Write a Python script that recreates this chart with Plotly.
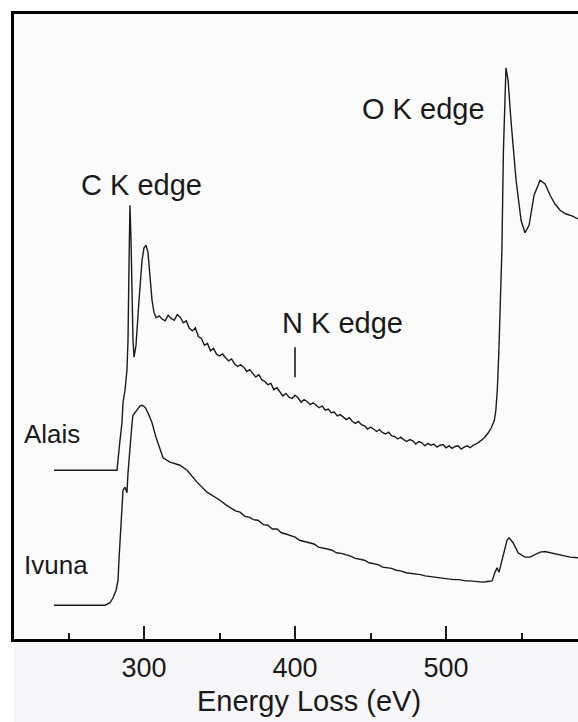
import plotly.graph_objects as go

# Energy loss (eV) and intensity (arbitrary units)
alais_ev = [240.4, 282.1, 284.1, 285.4, 286.1, 287.4, 288.7, 289.4, 290.1, 290.7,
            291.4, 292.1, 292.7, 293.4, 294.7, 296.7, 298.7, 300.0, 301.3, 302.6,
            304.0, 305.3, 306.6,
            308, 310, 312, 314, 316, 318, 320, 322, 324, 326, 328, 330, 332, 334,
            336, 338, 340, 342, 344, 346, 348, 350, 352, 354, 356, 358, 360, 362,
            364, 366, 368, 370, 372, 374, 376, 378, 380, 382, 384, 386, 388, 390,
            392, 394, 396, 398, 400, 402, 404, 406, 408, 410, 412, 414, 416, 418,
            420, 422, 424, 426, 428, 430, 432, 434, 436, 438, 440, 442, 444, 446,
            448, 450, 452, 454, 456, 458, 460, 462, 464, 466, 468, 470, 472, 474,
            476, 478, 480, 482, 484, 486, 488, 490, 492, 494, 496, 498, 500, 502,
            504, 506, 508, 510, 512, 514, 516, 518, 520, 522, 524, 526, 528, 530,
            532, 533, 534, 535, 536, 537, 538, 539, 539.7, 541.1, 543.0, 546.4,
            549.7, 552.3, 555.0, 558.3, 562.3, 565.6, 568.9, 572.2, 575.5, 579.5,
            583.4, 587.4]
alais_int = [27.0, 27.0, 31.8, 34.6, 37.8, 39.8, 43.0, 47.8, 60.6, 69.4,
             63.8, 54.2, 47.8, 45.1, 47.0, 54.2, 60.6, 62.6, 63.0, 61.9,
             58.2, 54.2, 52.3,
             51.4, 51.7, 51.2, 50.9, 51.8, 51.3, 51.0, 51.9, 51.5, 50.6, 50.9, 49.7, 49.3, 49.8,
             48.4, 48.1, 47.0, 47.3, 46.1, 46.5, 45.6, 45.3, 45.6, 45.0, 44.5, 44.8, 44.0, 43.6,
             43.9, 43.5, 42.8, 43.1, 42.4, 41.9, 42.3, 41.5, 41.2, 40.7, 40.9, 39.9, 40.2, 39.6,
             38.9, 39.3, 38.7, 38.5, 39.0, 38.6, 37.9, 38.3, 38.0, 37.5, 37.8, 37.4, 37.0, 37.3,
             36.6, 36.8, 36.2, 36.3, 35.7, 35.9, 35.5, 35.1, 35.4, 34.8, 34.5, 34.8, 34.3, 34.1,
             33.6, 33.9, 33.6, 33.2, 33.5, 33.0, 32.8, 33.1, 32.5, 32.4, 32.0, 32.3, 31.9, 31.6,
             31.9, 31.7, 31.2, 31.6, 31.4, 30.9, 31.3, 31.0, 31.2, 30.7, 31.0, 31.1, 30.6, 30.9,
             30.5, 30.8, 30.9, 30.4, 30.7, 30.9, 30.6, 31.0, 31.2, 31.5, 31.9, 32.4, 33.0, 33.8,
             35.0, 36.6, 40.0, 46.0, 55.0, 62.2, 78.0, 88.0, 91.4, 89.4, 83.0, 73.4,
             67.0, 65.0, 66.2, 71.0, 73.4, 72.8, 71.0, 69.6, 68.6, 68.0,
             67.7, 67.2]

ivuna_ev = [240.4, 274.2, 277.5, 279.5, 281.5, 282.8, 283.4, 284.1, 285.4, 286.1,
            287.4, 288.7, 289.4, 290.7, 292.1, 292.7, 295.4, 297.4, 298.7, 300.7,
            302.6, 305.3, 307.9, 310.6, 312.6, 317.2, 321.2, 323.8, 328.5, 331.8,
            335.1, 341.7, 346.0, 350.3, 354.0, 357.0, 360.5, 363.6, 367.0, 369.5,
            372.5, 375.5, 379.0, 382.0, 385.0, 388.1, 391.0, 394.0, 397.0, 400.0,
            403.0, 406.0, 409.5, 412.6, 415.5, 418.5, 421.5, 424.5, 427.5, 430.5,
            433.5, 436.4, 440.0, 443.0, 446.0, 449.0, 452.0, 455.0, 458.0, 460.9,
            464.0, 467.0, 470.0, 473.5, 477.0, 480.0, 483.0, 486.1, 489.0, 492.0,
            495.0, 498.0, 501.5, 505.0, 509.0, 512.6, 515.5, 518.5, 521.5, 524.5,
            527.5, 530.5, 532.5, 533.8, 535.1, 537.7, 540.4, 541.7, 544.4, 547.7,
            552.3, 555.6, 559.0, 562.3, 565.5, 568.9, 572.0, 575.5, 579.0, 582.1,
            587.4]
ivuna_int = [5.4, 5.4, 5.8, 6.6, 7.8, 9.4, 12.6, 15.8, 21.1, 23.8,
             24.3, 23.4, 26.6, 31.0, 34.6, 35.8, 36.6, 37.3, 37.4, 37.1,
             36.2, 34.6, 32.3, 30.2, 29.0, 28.3, 28.0, 27.8, 27.0, 26.1,
             25.1, 23.5, 22.9, 22.2, 21.5, 21.1, 20.5, 20.3, 19.6, 19.5,
             19.1, 19.0, 18.3, 18.2, 17.6, 17.6, 17.0, 16.8, 16.5, 16.3,
             15.8, 15.6, 15.4, 15.2, 14.7, 14.6, 14.4, 14.2, 13.8, 13.7,
             13.5, 13.3, 12.9, 12.7, 12.6, 12.2, 12.1, 11.9, 11.5, 11.4,
             11.3, 11.0, 10.9, 10.6, 10.5, 10.3, 10.3, 10.1, 10.0, 9.9,
             9.9, 9.8, 9.6, 9.5, 9.5, 9.3, 9.3, 9.2, 9.2, 9.1,
             9.2, 9.3, 10.7, 11.4, 10.7, 13.1, 15.8, 16.2, 15.4, 13.8,
             13.1, 13.1, 13.5, 13.9, 14.0, 13.8, 13.7, 13.4, 13.3, 13.1,
             13.0]

x_range = [213.9, 587.4]
y_range = [0, 100]
tick_vals = [300, 400, 500]

FONT = "Liberation Sans, Arial, Helvetica, sans-serif"
INK = "#1a1a1a"

fig = go.Figure()
fig.add_trace(go.Scatter(x=alais_ev, y=alais_int, mode="lines", name="Alais",
                         line=dict(color=INK, width=1.4)))
fig.add_trace(go.Scatter(x=ivuna_ev, y=ivuna_int, mode="lines", name="Ivuna",
                         line=dict(color=INK, width=1.4)))

# N K edge marker
fig.add_shape(type="line", xref="x", yref="y", x0=400, x1=400, y0=41.9, y1=46.7,
              line=dict(color=INK, width=1.6))
# light band below the axis
fig.add_shape(type="rect", xref="paper", yref="paper", x0=0, x1=1, y0=-0.1328, y1=0,
              fillcolor="#f6f6f8", line=dict(width=0), layer="below")

ann = [
    ("C K edge", 257.0, 72.6, 29),
    ("O K edge", 443.0, 84.8, 29),
    ("N K edge", 390.0, 50.6, 29),
    ("Alais", 219.2, 32.8, 26),
    ("Ivuna", 219.2, 11.8, 26),
]
for text, xv, yv, fs in ann:
    fig.add_annotation(x=xv, y=yv, xref="x", yref="y", text=text, showarrow=False,
                       xanchor="left", yanchor="middle",
                       font=dict(family=FONT, size=fs, color=INK))

fig.add_annotation(x=0.523, y=-0.128, xref="paper", yref="paper",
                   text="Energy Loss (eV)", showarrow=False,
                   xanchor="center", yanchor="bottom",
                   font=dict(family=FONT, size=29, color=INK))

fig.update_layout(
    width=578, height=722,
    margin=dict(l=14, r=0, t=14, b=83),
    paper_bgcolor="white",
    plot_bgcolor="#fbfbfb",
    showlegend=False,
    font=dict(family=FONT, color=INK),
)
fig.update_xaxes(range=x_range, showline=True, linewidth=3, linecolor="black",
                 mirror=True, showgrid=False, zeroline=False,
                 ticks="inside", ticklen=13, tickwidth=1.5, tickcolor=INK,
                 tickvals=tick_vals, ticklabelstandoff=3,
                 minor=dict(ticks="inside", ticklen=6, tickwidth=1.5, tickcolor=INK,
                            dtick=50, tick0=0, showgrid=False),
                 tickfont=dict(family=FONT, size=27, color=INK))
fig.update_yaxes(range=y_range, showline=True, linewidth=3, linecolor="black",
                 mirror=False, showgrid=False, zeroline=False,
                 showticklabels=False, ticks="")

fig.write_html("out.html", config={"displayModeBar": False},
               post_script="document.body.style.margin='0';document.body.style.overflow='hidden';")
